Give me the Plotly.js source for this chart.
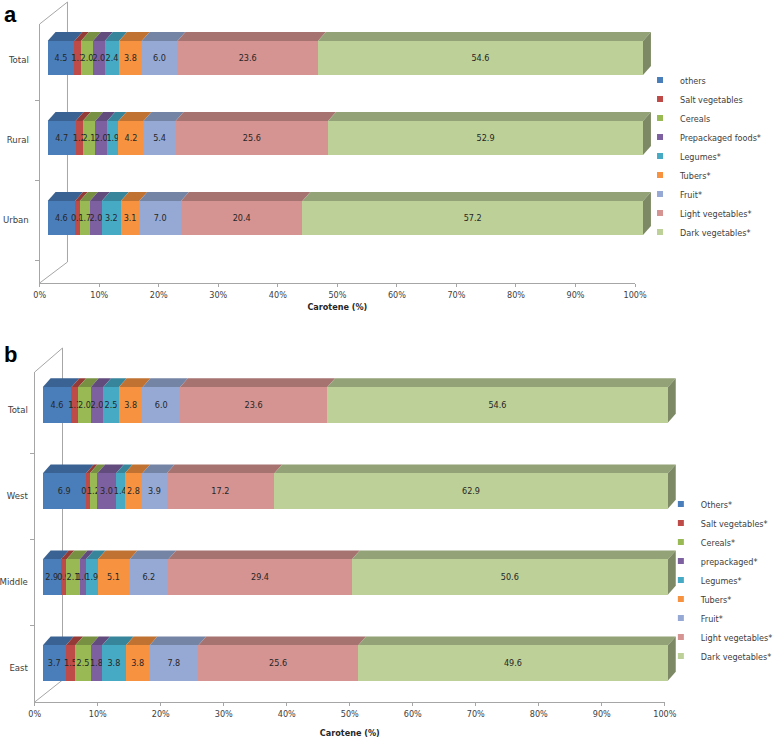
<!DOCTYPE html>
<html><head><meta charset="utf-8">
<script src="https://cdn.plot.ly/plotly-3.0.1.min.js"></script>
<style>html,body{margin:0;padding:0;background:#fff}#chart{width:778px;height:744px}</style>
</head><body><div id="chart"></div>
<script>
// ---------- Panel a data (rows: Urban, Rural, Total) ----------
const groupsA = ['Urban', 'Rural', 'Total'];
const namesA = ['others', 'Salt vegetables', 'Cereals', 'Prepackaged foods*', 'Legumes*', 'Tubers*', 'Fruit*', 'Light vegetables*', 'Dark vegetables*'];
const othersA   = [4.6, 4.7, 4.5];
const saltA     = [0.8, 1.2, 1.1];
const cerealsA  = [1.7, 2.1, 2.0];
const prepackA  = [2.0, 2.0, 2.0];
const legumesA  = [3.2, 1.9, 2.4];
const tubersA   = [3.1, 4.2, 3.8];
const fruitA    = [7.0, 5.4, 6.0];
const lightVegA = [20.4, 25.6, 23.6];
const darkVegA  = [57.2, 52.9, 54.6];

// ---------- Panel b data (rows: East, Middle, West, Total) ----------
const groupsB = ['East', 'Middle', 'West', 'Total'];
const namesB = ['Others*', 'Salt vegetables*', 'Cereals*', 'prepackaged*', 'Legumes*', 'Tubers*', 'Fruit*', 'Light vegetables*', 'Dark vegetables*'];
const othersB   = [3.7, 2.9, 6.9, 4.6];
const saltB     = [1.5, 0.9, 0.6, 1.1];
const cerealsB  = [2.5, 2.1, 1.2, 2.0];
const prepackB  = [1.8, 1.0, 3.0, 2.0];
const legumesB  = [3.8, 1.9, 1.4, 2.5];
const tubersB   = [3.8, 5.1, 2.8, 3.8];
const fruitB    = [7.8, 6.2, 3.9, 6.0];
const lightVegB = [25.6, 29.4, 17.2, 23.6];
const darkVegB  = [49.6, 50.6, 62.9, 54.6];

const tickVals = [0, 10, 20, 30, 40, 50, 60, 70, 80, 90, 100];
const tickText = ['0%', '10%', '20%', '30%', '40%', '50%', '60%', '70%', '80%', '90%', '100%'];
const axisTitle = '<b>Carotene (%)</b>';

// ---------- styling ----------
const colors = ['#4A7EBB', '#BE4B48', '#98B954', '#7D60A0', '#46AAC5', '#F69240', '#95A9D4', '#D59391', '#BDD098'];
const FONT = '"Liberation Sans Narrow", "DejaVu Sans Condensed", Arial, sans-serif';
const W = 778, H = 744;
const px = v => v / W, py = v => 1 - v / H;
function shade(hex, f) {
  const n = parseInt(hex.slice(1), 16);
  return 'rgb(' + Math.round(((n >> 16) & 255) * f) + ',' + Math.round(((n >> 8) & 255) * f) + ',' + Math.round((n & 255) * f) + ')';
}
const GRAY = '#A6A6A6';

const seriesA = [othersA, saltA, cerealsA, prepackA, legumesA, tubersA, fruitA, lightVegA, darkVegA];
const seriesB = [othersB, saltB, cerealsB, prepackB, legumesB, tubersB, fruitB, lightVegB, darkVegB];

const data = [];
function addBars(series, names, groups, xa, ya, fx, fy, width, legendId) {
  const ys = groups.map((g, i) => i);
  series.forEach((vals, i) => {
    data.push({
      type: 'bar', orientation: 'h', x: vals, y: ys, xaxis: xa, yaxis: ya,
      width: width, name: names[i], showlegend: false,
      marker: { color: colors[i], line: { width: 0 } },
      text: vals, texttemplate: '%{text:.1f}', textposition: 'inside',
      insidetextanchor: 'middle', textangle: 0, constraintext: 'none', cliponaxis: false,
      insidetextfont: { family: FONT, size: 9, color: '#262626' },
      hoverinfo: 'skip'
    });
  });
  // legend keys (small squares) placed on the front-plane axes
  names.forEach((n, i) => {
    data.push({
      type: 'scatter', mode: 'markers', x: [null], y: [null], xaxis: fx, yaxis: fy,
      name: n, legend: legendId, showlegend: true, hoverinfo: 'skip',
      marker: { symbol: 'square', size: 6, color: colors[i] }
    });
  });
}
addBars(seriesA, namesA, groupsA, 'x2', 'y2', 'x', 'y', 0.425, 'legend');
addBars(seriesB, namesB, groupsB, 'x4', 'y4', 'x3', 'y3', 0.41, 'legend2');

// 3-D top faces & right-hand side faces, built from the data in axis units
const shapes = [];
function faces(series, nRows, xref, yref, halfW, ddx, ddy) {
  for (let r = 0; r < nRows; r++) {
    const tot = series.reduce((s, arr) => s + arr[r], 0);
    let cum = 0;
    const yT = r + halfW, yB = r - halfW;
    series.forEach((arr, i) => {
      const x0 = cum / tot * 100; cum += arr[r]; const x1 = cum / tot * 100;
      shapes.push({
        type: 'path', xref: xref, yref: yref, layer: 'below', line: { width: 0 },
        fillcolor: shade(colors[i], 0.78),
        path: `M${x0},${yT} L${x1},${yT} L${x1 + ddx},${yT + ddy} L${x0 + ddx},${yT + ddy} Z`
      });
    });
    shapes.push({
      type: 'path', xref: xref, yref: yref, layer: 'below', line: { width: 0 },
      fillcolor: shade(colors[colors.length - 1], 0.66),
      path: `M100,${yB} L100,${yT} L${100 + ddx},${yT + ddy} L${100 + ddx},${yB + ddy} Z`
    });
  }
}

// walls (frame lines)
function wall(x0, y0, x1, y1) {
  shapes.push({ type: 'line', xref: 'paper', yref: 'paper', layer: 'below',
    x0: px(x0), y0: py(y0), x1: px(x1), y1: py(y1), line: { color: GRAY, width: 1 } });
}
wall(40, 24, 68, 2); wall(68, 2, 68, 262); wall(40, 283, 68, 262);
wall(35, 372, 63, 348); wall(63, 348, 63, 680); wall(35, 702, 63, 680);

faces(seriesA, groupsA.length, 'x2', 'y2', 0.425 / 2, 8 / 6, 9 / 80);
faces(seriesB, groupsB.length, 'x4', 'y4', 0.41 / 2, 8 / 6.3, 9 / 86);

const tickFont = { family: FONT, size: 9, color: '#404040' };
function frontX(domain, anchor, standoff) {
  return {
    domain: domain, anchor: anchor, range: [0, 100], tickmode: 'array', tickvals: tickVals, ticktext: tickText,
    ticks: 'outside', ticklen: 3, tickcolor: GRAY, showline: true, linecolor: GRAY, linewidth: 1,
    showgrid: false, zeroline: false, tickfont: tickFont, fixedrange: true,
    title: { text: axisTitle, font: { family: FONT, size: 9, color: '#262626' }, standoff: standoff }
  };
}
function frontY(domain, anchor, range, groups, standoff) {
  return {
    domain: domain, anchor: anchor, range: range, tickmode: 'array',
    tickvals: groups.map((g, i) => i), ticktext: groups, ticks: '', ticklabelstandoff: standoff,
    minor: { tickmode: 'linear', tick0: 0.5, dtick: 1, ticks: 'outside', ticklen: 4, tickcolor: GRAY, showgrid: false },
    showline: true, linecolor: GRAY, linewidth: 1, showgrid: false, zeroline: false,
    tickfont: { family: FONT, size: 9.5, color: '#404040' }, fixedrange: true
  };
}
function hidden(domain, anchor, range) {
  return { domain: domain, anchor: anchor, range: range, visible: false, showgrid: false, zeroline: false, fixedrange: true };
}

const layout = {
  width: W, height: H, margin: { l: 0, r: 0, t: 0, b: 0 },
  paper_bgcolor: '#ffffff', plot_bgcolor: 'rgba(0,0,0,0)',
  barmode: 'stack', barnorm: 'percent',
  font: { family: FONT, size: 9, color: '#404040' },
  xaxis: frontX([px(40), px(640)], 'y', 4),
  yaxis: frontY([py(283), py(24)], 'x', [-0.7875, 2.45], groupsA, 8),
  xaxis2: hidden([px(48), px(662)], 'y2', [0, 614 / 6]),
  yaxis2: hidden([py(270), py(8)], 'x2', [-0.65, 2.625]),
  xaxis3: frontX([px(35), px(670)], 'y3', 11),
  yaxis3: frontY([py(702), py(372)], 'x3', [-0.395, 3.442], groupsB, 4),
  xaxis4: hidden([px(43), px(690)], 'y4', [0, 647 / 6.3]),
  yaxis4: hidden([py(700), py(370)], 'x4', [-0.430, 3.407]),
  legend: { x: px(645), xanchor: 'left', y: py(156), yanchor: 'middle', traceorder: 'normal',
    bgcolor: 'rgba(0,0,0,0)', font: { family: FONT, size: 9, color: '#404040' }, itemwidth: 30 },
  legend2: { x: px(666), xanchor: 'left', y: py(580), yanchor: 'middle', traceorder: 'normal',
    bgcolor: 'rgba(0,0,0,0)', font: { family: FONT, size: 9, color: '#404040' }, itemwidth: 30 },
  shapes: shapes,
  annotations: [
    { text: '<b>a</b>', xref: 'paper', yref: 'paper', x: px(2), y: py(0), xanchor: 'left', yanchor: 'top',
      showarrow: false, font: { family: 'Liberation Sans, Arial, sans-serif', size: 22, color: '#000' } },
    { text: '<b>b</b>', xref: 'paper', yref: 'paper', x: px(2), y: py(340), xanchor: 'left', yanchor: 'top',
      showarrow: false, font: { family: 'Liberation Sans, Arial, sans-serif', size: 22, color: '#000' } }
  ]
};

Plotly.newPlot('chart', data, layout, { displayModeBar: false, staticPlot: true });
</script>
</body></html>
